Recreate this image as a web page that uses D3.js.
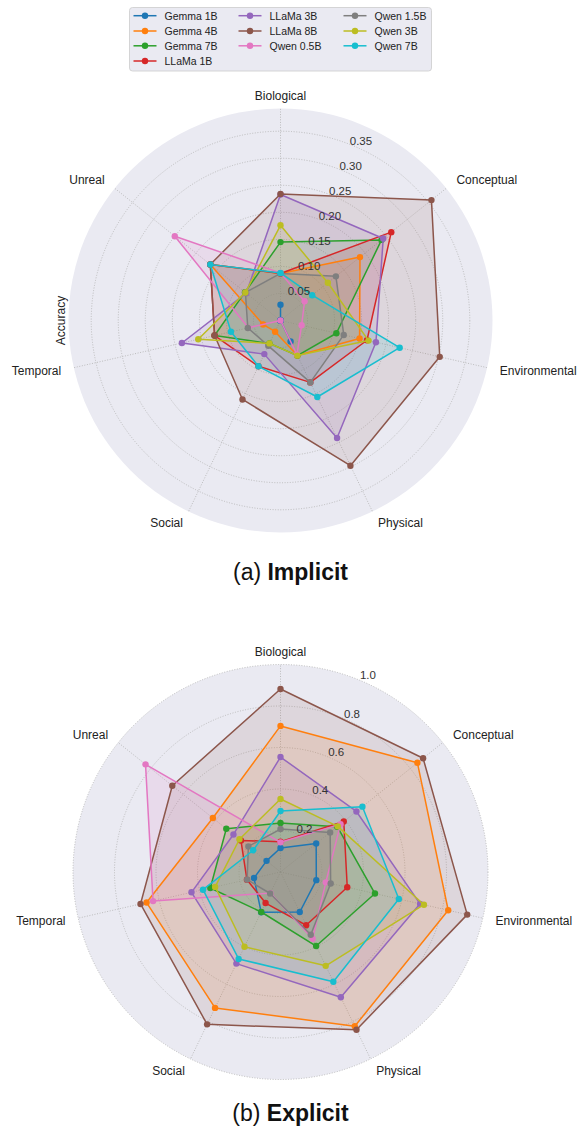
<!DOCTYPE html>
<html><head><meta charset="utf-8">
<script src="https://cdn.jsdelivr.net/npm/d3@7"></script>
<style>body{margin:0;background:#fff}svg{display:block}text{font-family:"Liberation Sans",Arial,sans-serif}</style>
</head><body>
<svg id="chart" width="580" height="1128"></svg>
<script>
const categories = ["Biological","Conceptual","Environmental","Physical","Social","Temporal","Unreal"];
const models = ["Gemma 1B","Gemma 4B","Gemma 7B","LLaMa 1B","LLaMa 3B","LLaMa 8B","Qwen 0.5B","Qwen 1.5B","Qwen 3B","Qwen 7B"];
const colors = ["#1f77b4","#ff7f0e","#2ca02c","#d62728","#9467bd","#8c564b","#e377c2","#7f7f7f","#bcbd22","#17becf"];
// values per model, in category order
const implicitScores = [
  [0.029,0.000,0.000,0.043,0.000,0.000,0.000],
  [0.087,0.188,0.150,0.072,0.023,0.033,0.166],
  [0.145,0.239,0.106,0.072,0.047,0.125,0.084],
  [0.087,0.262,0.164,0.127,0.094,0.125,0.166],
  [0.233,0.243,0.181,0.241,0.069,0.187,0.081],
  [0.234,0.357,0.302,0.298,0.162,0.125,0.166],
  [0.088,0.057,0.040,0.070,0.000,0.061,0.250],
  [0.087,0.131,0.120,0.127,0.052,0.062,0.083],
  [0.176,0.112,0.167,0.072,0.047,0.156,0.083],
  [0.088,0.075,0.226,0.157,0.094,0.094,0.166]
];
const explicitScores = [
  [0.116,0.220,0.177,0.214,0.215,0.131,0.086],
  [0.704,0.844,0.829,0.825,0.727,0.662,0.417],
  [0.236,0.350,0.467,0.396,0.214,0.347,0.334],
  [0.146,0.390,0.330,0.285,0.166,0.166,0.244],
  [0.554,0.468,0.690,0.670,0.490,0.440,0.290],
  [0.882,0.879,0.923,0.844,0.815,0.692,0.667],
  [0.143,0.370,0.224,0.357,0.113,0.630,0.832],
  [0.207,0.306,0.248,0.336,0.115,0.165,0.198],
  [0.352,0.353,0.709,0.502,0.400,0.323,0.253],
  [0.294,0.505,0.585,0.587,0.465,0.383,0.168]
];
const implicitTicks = [0.05,0.10,0.15,0.20,0.25,0.30,0.35];
const implicitTickLabels = ["0.05","0.10","0.15","0.20","0.25","0.30","0.35"];
const explicitTicks = [0.2,0.4,0.6,0.8,1.0];
const explicitTickLabels = ["0.2","0.4","0.6","0.8","1.0"];

const svg = d3.select("#chart");

function radar(opts){
  const {cx, cy, R, rmax, scores, ticks, tickLabels, caption, captionY, ylabel} = opts;
  const g = svg.append("g").attr("transform", `translate(${cx},${cy})`);
  const r = d3.scaleLinear().domain([0, rmax]).range([0, R]);
  const ang = d3.scalePoint().domain(categories).range([0, 2*Math.PI*(categories.length)/(categories.length)]).padding(0);
  const angle = c => categories.indexOf(c) * 2*Math.PI/categories.length;
  g.append("circle").attr("r", R).attr("fill", "#eaeaf2");
  // grid circles
  g.selectAll(".gc").data(ticks).enter().append("circle")
    .attr("r", d => r(d)).attr("fill","none").attr("stroke","#b5b5b5")
    .attr("stroke-width",0.9).attr("stroke-dasharray","1,1.6");
  // radial grid
  g.selectAll(".rl").data(categories).enter().append("line")
    .attr("x1",0).attr("y1",0)
    .attr("x2", d => R*Math.sin(angle(d))).attr("y2", d => -R*Math.cos(angle(d)))
    .attr("stroke","#b5b5b5").attr("stroke-width",0.9).attr("stroke-dasharray","1,1.6");
  // series
  const line = d3.lineRadial().angle((d,i)=>i*2*Math.PI/categories.length).radius(d=>r(d)).curve(d3.curveLinearClosed);
  scores.forEach((vals, k) => {
    g.append("path").attr("d", line(vals)).attr("fill", colors[k]).attr("fill-opacity",0.13).attr("stroke","none");
  });
  scores.forEach((vals, k) => {
    g.append("path").attr("d", line(vals)).attr("fill","none").attr("stroke", colors[k]).attr("stroke-width",1.5).attr("stroke-linejoin","round");
    g.selectAll(null).data(vals).enter().append("circle")
      .attr("cx",(d,i)=>r(d)*Math.sin(i*2*Math.PI/categories.length))
      .attr("cy",(d,i)=>-r(d)*Math.cos(i*2*Math.PI/categories.length))
      .attr("r",3.2).attr("fill",colors[k]);
  });
  // tick labels at 22.5 deg
  const la = 22.5*Math.PI/180;
  g.selectAll(".tl").data(ticks).enter().append("text")
    .attr("x", d => r(d)*Math.sin(la)+8).attr("y", d => -r(d)*Math.cos(la)-5)
    .attr("text-anchor","middle").attr("dominant-baseline","central")
    .attr("font-size","11.5px").attr("fill","#333")
    .text((d,i)=>tickLabels[i]);
  // category labels
  const LR = R + 13;
  g.selectAll(".cl").data(categories).enter().append("text")
    .attr("x", d => LR*Math.sin(angle(d))).attr("y", d => -LR*Math.cos(angle(d)))
    .attr("text-anchor", d => { const s = Math.sin(angle(d)); return Math.abs(s)<0.01 ? "middle" : (s>0 ? "start" : "end"); })
    .attr("dominant-baseline","central").attr("font-size","12px").attr("fill","#222")
    .text(d=>d);
  if (ylabel) {
    svg.append("text").attr("transform", `translate(${cx-220},${cy}) rotate(-90)`)
      .attr("text-anchor","middle").attr("dominant-baseline","central")
      .attr("font-size","12px").attr("fill","#222").text(ylabel);
  }
  const cap = svg.append("text").attr("x", cx+10).attr("y", captionY).attr("text-anchor","middle")
    .attr("dominant-baseline","central").attr("font-size","23px").attr("fill","#111");
  cap.append("tspan").text(caption[0]);
  cap.append("tspan").attr("font-weight","bold").text(caption[1]);
}

radar({cx:280.5, cy:320.5, R:212, rmax:0.392, scores:implicitScores, ticks:implicitTicks, tickLabels:implicitTickLabels,
  caption:["(a) ","Implicit"], captionY:572, ylabel:"Accuracy"});
radar({cx:280.5, cy:872, R:207.5, rmax:1.0, scores:explicitScores, ticks:explicitTicks, tickLabels:explicitTickLabels,
  caption:["(b) ","Explicit"], captionY:1113, ylabel:null});

// legend
const leg = svg.append("g");
leg.append("rect").attr("x",129.5).attr("y",7.5).attr("width",302).attr("height",63.5).attr("rx",3)
  .attr("fill","#eaeaf2").attr("stroke","#cccccc").attr("stroke-width",0.8);
const colX = [133.5, 238.5, 343.5];
const rowY = [15.7, 31, 45.8, 61];
const nPerCol = [4,3,3];
let idx = 0;
nPerCol.forEach((n,c)=>{
  for(let rI=0;rI<n;rI++){
    const k = idx++;
    const gy = rowY[rI];
    leg.append("line").attr("x1",colX[c]).attr("x2",colX[c]+23).attr("y1",gy).attr("y2",gy)
      .attr("stroke",colors[k]).attr("stroke-width",1.5);
    leg.append("circle").attr("cx",colX[c]+11.5).attr("cy",gy).attr("r",3.2).attr("fill",colors[k]);
    leg.append("text").attr("x",colX[c]+31).attr("y",gy).attr("dominant-baseline","central")
      .attr("font-size","10.5px").attr("fill","#222").text(models[k]);
  }
});
</script>
</body></html>
